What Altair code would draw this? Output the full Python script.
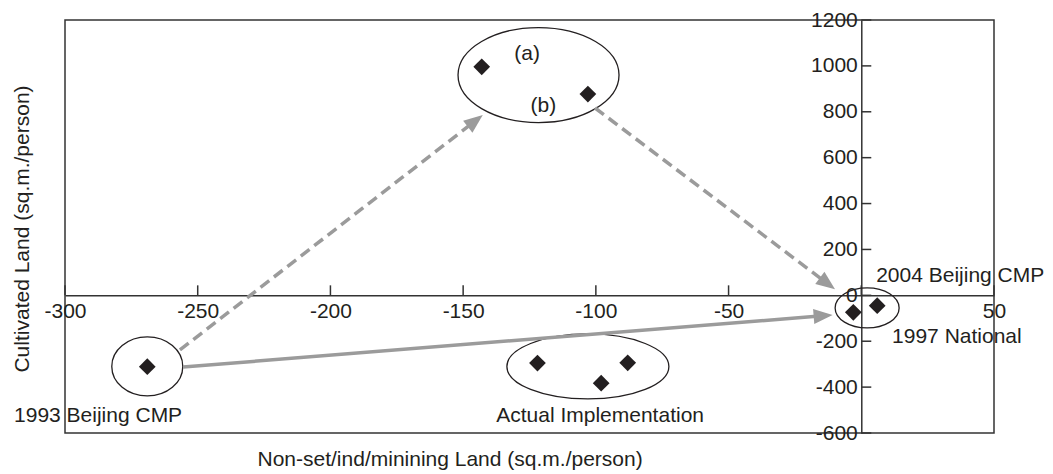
import math
import altair as alt
import pandas as pd

# ---------------- data ----------------
pt_x = [-269, -143, -103, -122, -98, -88, -3, 6]
pt_y = [-311, 996, 877, -295, -383, -294, -74, -45]

ell_x = [-269, -121.6, -103, 2.2]
ell_y = [-310, 960, -310, -55]

lab_text = ["(a)", "(b)", "Actual Implementation", "1993 Beijing CMP", "2004 Beijing CMP", "1997 National"]
lab_x = [-125.9, -119.8, -98.4, -319.2, 5.6, 11.6]
lab_y = [1025.7, 800.3, -552, -552, 59.4, -206.5]

arr_x1 = [-256.7, -100.3, -255.5]
arr_y1 = [-238, 816.5, -312.4]
arr_x2 = [-142.6, -9.9, -10.8]
arr_y2 = [786, 26.3, -85.7]
arr_dash = [True, True, False]

x_ticks = [-300, -250, -200, -150, -100, -50, 0, 50]
x_labels = [-300, -250, -200, -150, -100, -50, 50]
y_ticks = [1200, 1000, 800, 600, 400, 200, 0, -200, -400, -600]

# ---------------- styles ----------------
W, H = 929, 413
XD = [-300, 50]
YD = [-600, 1200]
ell_w = [71, 161, 162, 64]
ell_h = [59, 95, 65, 40]
FONT = "Liberation Sans"
INK = "#231f20"
LINE = "#333333"
GREY = "#9b9b9b"
FS = 21
TICK = 10

kx = W / (XD[1] - XD[0])
ky = H / (YD[1] - YD[0])
x0 = (0 - XD[0]) * kx
y0 = (YD[1] - 0) * ky

xs = alt.Scale(domain=XD, nice=False, zero=False)
ys = alt.Scale(domain=YD, nice=False, zero=False)

pts = pd.DataFrame({"x": pt_x, "y": pt_y})

ell = pd.DataFrame({
    "x": ell_x, "y": ell_y,
    "size": [w * w for w in ell_w],
    "path": [f"M -1 0 A 1 {h / w:.4f} 0 1 1 1 0 A 1 {h / w:.4f} 0 1 1 -1 0 Z" for w, h in zip(ell_w, ell_h)],
})

rows = []
for a, b, c, d, dash in zip(arr_x1, arr_y1, arr_x2, arr_y2, arr_dash):
    dx = (c - a) * kx
    dy = -(d - b) * ky
    L = math.hypot(dx, dy)
    ux, uy = dx / L, dy / L
    ang = math.degrees(math.atan2(dx, -dy)) % 360
    back = 10
    rows.append({"x1": a, "y1": b, "xe": c - ux * back / kx, "ye": d + uy * back / ky,
                 "tx": c, "ty": d, "ang": ang, "dash": dash})
arr = pd.DataFrame(rows)

labs = pd.DataFrame({"t": lab_text, "x": lab_x, "y": lab_y})
labs_c = labs.iloc[:3]
labs_l = labs.iloc[3:]

xt = pd.DataFrame({"v": x_ticks, "a": 0.0, "b": TICK / ky})
yt = pd.DataFrame({"v": y_ticks, "a": 0.0, "b": TICK / kx})

x_label_axis = alt.Axis(
    orient="bottom", offset=-(H - y0), values=x_labels, ticks=False, tickSize=0,
    domain=True, domainColor=LINE, domainWidth=1.5, grid=False,
    labelExpr="'' + datum.value",
    labelFont=FONT, labelFontSize=FS, labelColor=INK, labelPadding=5,
    labelFlush=False, labelOverlap=False, labelBound=False,
    title="Non-set/ind/minining Land (sq.m./person)", titleFont=FONT, titleFontSize=FS,
    titleFontWeight="normal", titleColor=INK, titleX=192, titleY=465 - 20 - y0,
    titleAlign="left", titleBaseline="alphabetic",
)
y_label_axis = alt.Axis(
    orient="left", offset=-x0, values=y_ticks, ticks=False, tickSize=0,
    domain=True, domainColor=LINE, domainWidth=1.5, grid=False,
    labelExpr="'' + datum.value",
    labelFont=FONT, labelFontSize=FS, labelColor=INK, labelPadding=4,
    labelFlush=False, labelOverlap=False, labelBound=False,
    title="Cultivated Land (sq.m./person)", titleFont=FONT, titleFontSize=FS,
    titleFontWeight="normal", titleColor=INK, titleAngle=270,
    titleX=(28 - 65) - x0, titleY=208.5, titleAlign="center", titleBaseline="alphabetic",
)

xticks = alt.Chart(xt).mark_rule(color=LINE, strokeWidth=1.5).encode(
    x=alt.X("v:Q", scale=xs, axis=None),
    y=alt.Y("a:Q", scale=ys, axis=None), y2="b:Q",
)
yticks = alt.Chart(yt).mark_rule(color=LINE, strokeWidth=1.5).encode(
    y=alt.Y("v:Q", scale=ys, axis=None),
    x=alt.X("a:Q", scale=xs, axis=None), x2="b:Q",
)

ellipses = alt.Chart(ell).mark_point(filled=False, stroke=INK, strokeWidth=1.3, opacity=1).encode(
    x=alt.X("x:Q", scale=xs, axis=None),
    y=alt.Y("y:Q", scale=ys, axis=None),
    shape=alt.Shape("path:N", scale=None),
    size=alt.Size("size:Q", scale=None),
)

dashed = alt.Chart(arr[arr["dash"]]).mark_rule(color=GREY, strokeWidth=3.5, strokeDash=[11, 6]).encode(
    x=alt.X("x1:Q", scale=xs, axis=None), y=alt.Y("y1:Q", scale=ys, axis=None),
    x2="xe:Q", y2="ye:Q",
)
solid = alt.Chart(arr[~arr["dash"]]).mark_rule(color=GREY, strokeWidth=3.5).encode(
    x=alt.X("x1:Q", scale=xs, axis=None), y=alt.Y("y1:Q", scale=ys, axis=None),
    x2="xe:Q", y2="ye:Q",
)
heads = alt.Chart(arr).mark_point(
    filled=True, fill=GREY, strokeWidth=0, opacity=1,
    shape="M 0 0 L -0.4 1 L 0.4 1 Z", size=1444,
).encode(
    x=alt.X("tx:Q", scale=xs, axis=None),
    y=alt.Y("ty:Q", scale=ys, axis=None),
    angle=alt.Angle("ang:Q", scale=None),
)

points = alt.Chart(pts).mark_point(shape="diamond", filled=True, size=280, color=INK, opacity=1).encode(
    x=alt.X("x:Q", scale=xs, axis=x_label_axis),
    y=alt.Y("y:Q", scale=ys, axis=y_label_axis),
)

text_c = alt.Chart(labs_c).mark_text(font=FONT, fontSize=FS, color=INK, align="center", baseline="alphabetic").encode(
    x=alt.X("x:Q", scale=xs, axis=None), y=alt.Y("y:Q", scale=ys, axis=None), text="t:N",
)
text_l = alt.Chart(labs_l).mark_text(font=FONT, fontSize=FS, color=INK, align="left", baseline="alphabetic").encode(
    x=alt.X("x:Q", scale=xs, axis=None), y=alt.Y("y:Q", scale=ys, axis=None), text="t:N",
)

chart = alt.layer(xticks, yticks, ellipses, dashed, solid, heads, points, text_c, text_l).resolve_axis(
    x="independent", y="independent"
).properties(
    width=W, height=H,
    autosize=alt.AutoSizeParams(type="none"),
    padding={"left": 57, "top": 12, "right": 51, "bottom": 40},
    background="white",
).configure_view(stroke=LINE, strokeWidth=1.5)

chart.save("out.html", embed_options={"renderer": "svg", "actions": False})
